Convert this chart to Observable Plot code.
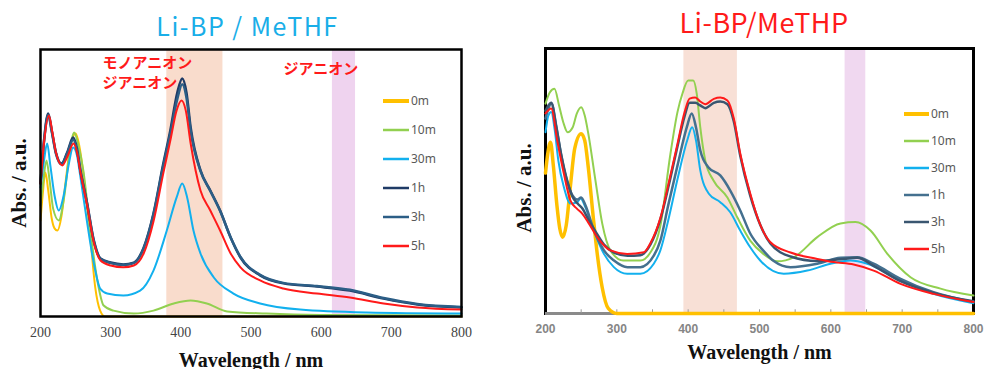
<!DOCTYPE html>
<html><head><meta charset="utf-8">
<script src="https://cdn.jsdelivr.net/npm/d3@7"></script>
<script src="https://cdn.jsdelivr.net/npm/@observablehq/plot@0.6"></script>
<style>
html,body{margin:0;padding:0;background:#fff;}
#wrap{position:relative;width:984px;height:369px;overflow:hidden;background:#fff;}
#left,#right{position:absolute;top:0;}
#left{left:0;} #right{left:492px;}
</style></head>
<body><div id="wrap"><div id="left"></div><div id="right"></div></div>
<script>
// ---------- shared ----------
const seriesNames = ["0m","10m","30m","1h","3h","5h"];
const tickLabels = [200,300,400,500,600,700,800];
const minorTicks = [250,300,350,400,450,500,550,600,650,700,750];

// ---------- Li-BP / MeTHF (left) ----------
const thfTitle = "Li-BP / MeTHF";
const thfBandStart = [380, 616];
const thfBandEnd = [460, 649];
const thfWl0m = [200,203,207,211,216,220,224,230,236,242,250,256,261,266,271,278,285,292,300,400,500,600,700,800];
const thfAbs0m = [36.0,45.3,53.9,47.2,36.7,33.0,32.2,37.8,50.9,62.9,68.5,62.9,53.6,41.6,29.6,10.9,2.2,0,0,0,0,0,0,0];
const thfWl10m = [200,204,208.5,213,218,226,234,241,248,254,261,271,281,290,304,333,361,390,414,437,466,522,600,800];
const thfAbs10m = [41.6,50.9,58.4,50.9,40.4,36.0,45.3,60.3,68.9,64.0,54.7,32.2,13.5,4.1,2.2,1.1,2.2,4.9,6.0,4.9,1.9,1.1,0.6,0.4];
const thfWl30m = [200,205,209.5,214,220,226,233,240,246.5,252,257,266,276,285,295,318,342,361,380,394,402,409,418,428,447,475,513,570,665,800];
const thfAbs30m = [48.3,58.4,64.8,56.6,45.3,39.7,45.3,56.6,63.3,60.3,52.1,36.0,19.9,10.5,8.6,7.9,9.7,17.2,32.2,44.6,49.8,44.6,32.2,23.6,14.6,8.6,4.9,2.6,1.5,1.1];
const thfWl1h = [200,205,211,216,222,230,238,246.5,252,257,266.5,276,285.5,300,318,333,347,361,375,385,395,402,408,414,428,442,456,471,485,513,546,594,641,689,737,800];
const thfAbs1h = [49.8,65.9,76.0,69.7,61.4,57.3,61.4,67.0,62.9,54.7,42.3,28.5,21.7,20.2,19.5,20.2,25.8,38.6,57.3,69.7,83.9,89.1,83.9,70.8,54.7,47.2,39.7,29.6,22.1,15.4,12.4,11.2,9.7,6.7,4.5,3.4];
const thfWl3h = thfWl1h;
const thfAbs3h = [49.8,65.5,75.5,69.3,61.0,57.0,61.0,66.2,62.3,54.3,42.0,28.2,21.5,20.0,19.3,20.0,25.5,38.2,56.5,68.5,81.5,87.0,82.0,69.5,54.5,47.0,39.5,29.6,22.3,15.6,12.6,11.4,10.0,6.9,4.7,3.6];
const thfWl5h = [200,205,212,217,222,231,239,247,252,257,266.5,276,285.5,300,318,333,347,361,375,385,394,401,407,414,428,442,456,471,485,513,546,594,641,689,737,800];
const thfAbs5h = [49.8,65.2,75.3,68.9,61.4,56.6,60.3,64.8,61.4,53.9,41.6,27.7,21.0,19.1,18.4,19.1,23.6,35.6,53.6,65.9,77.2,80.9,77.2,64.8,47.2,39.7,32.2,23.6,18.4,13.5,10.5,8.6,7.1,4.9,3.4,2.6];

// ---------- Li-BP / MeTHP (right) ----------
const thpTitle = "Li-BP/MeTHP";
const thpBandStart = [394, 620];
const thpBandEnd = [469, 649];
const thpWl0m = [200,203,207,211,216,220,224,229,235,241,250,255,260,267,272.5,279.5,288,300,400,500,600,700,800];
const thpAbs0m = [53.0,60.0,64.6,55.8,40.8,32.1,28.8,33.2,48.3,62.3,67.8,65.3,55.1,36.2,22.6,9.8,1.9,0,0,0,0,0,0];
const thpWl10m = [200,206,212.6,219,225,231,238,244,250,255,260,270,279.5,291,309,333,347,361,375,385,392,400,407,412,417,424,435.5,455,469,487,505,525,548,581,613.6,634.6,655.6,679,711.7,753.8,800];
const thpAbs10m = [79.2,83.4,84.8,78.5,72.1,68.4,70.2,75.5,77.8,74.7,67.9,50.2,34.0,23.8,20.0,20.0,23.0,33.0,60.0,76.0,83.0,87.9,87.9,83.0,70.2,57.7,50.2,43.8,36.2,27.5,22.6,19.7,21.2,28.8,34.0,34.5,31.3,22.6,13.7,9.4,6.8];
const thpWl30m = [200,204,208,213,218,225.7,235,244.4,249,256,267.7,281.7,295.8,314.5,333,351.8,361,372,384.6,398.6,405.6,411,417,429,445,459,473,487,501,534,567,599.6,627.6,651,697.7,744,800];
const thpAbs30m = [68.4,74.7,76.0,69.1,57.7,47.7,41.5,42.0,43.4,40.1,31.3,22.6,17.5,15.0,15.0,18.8,23.8,35.1,50.2,65.3,70.3,65.3,54.0,45.2,42.0,38.2,31.3,25.0,20.0,15.0,16.2,18.8,20.0,18.8,12.5,7.4,3.9];
const thpWl1h = [200,208.5,215,222,230,238,245,250,256,267,282,296,315,333,352,361,372,385,398,405,411,417,428.5,445,459,473,487,505,520,543.5,581,613.6,637,660,697.7,744,800];
const thpAbs1h = [73.6,79.2,70.9,59.6,50.2,44.5,43.0,43.8,40.8,32.1,23.8,20.0,17.5,17.5,21.9,27.5,40.8,55.8,70.2,75.5,70.2,61.5,55.1,52.1,46.4,38.9,30.2,23.8,19.8,17.5,18.8,21.0,21.2,18.8,13.1,8.0,4.3];
const thpWl3h = [200,208,215,222,230,238,245,252,260,270,282,296,315,333,347,361,375,385,395,402,410,417,424,436,445,455,464,473,487,501,515,543.5,581,613.6,637,660,697.7,744,800];
const thpAbs3h = [76.5,79.5,70.5,60.0,50.5,44.0,41.5,39.5,35.5,31.0,26.0,23.0,21.8,22.0,26.0,35.5,51.0,63.0,74.5,79.5,79.5,78.5,77.5,79.5,80.0,79.0,72.5,59.5,44.5,33.5,26.5,21.5,19.8,20.5,21.0,18.0,12.2,7.8,4.6];
const thpWl5h = [200,208,216.4,225.7,235,244,251.4,260.7,272.5,291,314.5,338,347,361,375,385,395,402,410,417,424,436,445,455,464,473,487,501,515,543.5,581,604,632,660,697.7,744,800];
const thpAbs5h = [75.5,77.4,65.3,52.8,42.6,39.6,37.7,34.0,28.8,23.8,22.5,23.1,26.5,36.0,52.0,64.0,76.0,81.1,81.5,80.0,79.0,81.0,81.5,80.4,73.6,60.4,45.3,33.5,27.0,23.0,20.6,19.4,18.5,16.2,11.2,7.4,4.3];

// ---------- build ----------
const rows = (wl, ab) => wl.map((w, i) => ({wl: w, a: ab[i]}));
const serif = "'Liberation Serif', 'Times New Roman', serif";

function panel(o) {
  const marks = [];
  o.bandStart.forEach((b, i) => {
    marks.push(Plot.rect([{x1: b, x2: o.bandEnd[i]}], {x1: "x1", x2: "x2", fill: o.bandFills[i]}));
  });
  if (o.frameFirst) {
    marks.push(Plot.frame({stroke: "#000", strokeWidth: o.frameWidth}));
    marks.push(Plot.ruleY([0], {stroke: "#8a8a8a", strokeWidth: o.frameWidth}));
    marks.push(Plot.ruleX(minorTicks, {y1: 0, y2: 1.4, stroke: "#9a9a9a", strokeWidth: 1}));
  }
  o.series.forEach((s, i) => {
    marks.push(Plot.line(rows(s[0], s[1]), {x: "wl", y: "a", stroke: o.colors[i], strokeWidth: o.widths[i], curve: "monotone-x"}));
  });
  if (!o.frameFirst) marks.push(Plot.frame({stroke: "#000", strokeWidth: o.frameWidth}));
  marks.push(Plot.text(tickLabels, {x: d => d, frameAnchor: "bottom", text: d => String(d), textAnchor: "middle", lineAnchor: "top", dy: 11,
    fontFamily: o.tickFont, fontSize: o.tickSize, fontWeight: o.tickWeight, fill: o.tickFill}));
  marks.push(Plot.text(["Wavelength / nm"], {frameAnchor: "bottom", text: d => d, textAnchor: "middle", lineAnchor: "bottom", dy: o.xLabelDy,
    fontFamily: serif, fontSize: 20, fontWeight: "bold", fill: "#111"}));
  marks.push(Plot.text(["Abs. / a.u."], {frameAnchor: "left", text: d => d, rotate: -90, textAnchor: "middle", lineAnchor: "middle", dx: o.yLabelDx, dy: o.yLabelDy,
    fontFamily: serif, fontSize: 21, fontWeight: "bold", fill: "#111"}));
  if (o.notes) o.notes.forEach(n => marks.push(Plot.text([n.text], {frameAnchor: "top-left", text: d => d, textAnchor: "start",
    lineAnchor: "bottom", lineHeight: 1.27, dx: n.dx, dy: n.dy, fontFamily: "'Noto Sans CJK JP', sans-serif", fontSize: 15, fontWeight: "bold", fill: "#ff1a1a"})));
  const svg = Plot.plot({
    width: 492, height: 369,
    marginLeft: o.m[0], marginRight: o.m[1], marginTop: o.m[2], marginBottom: o.m[3],
    x: {domain: [200, 800], axis: null},
    y: {domain: [0, 100], axis: null},
    style: {background: "transparent", overflow: "visible"},
    marks
  });
  const s = d3.select(svg);
  s.append("text").text(o.title).attr("x", o.titleX).attr("y", o.titleY).attr("text-anchor", "middle")
    .attr("font-family", "'Noto Sans CJK JP', 'Noto Sans', sans-serif").attr("font-size", o.titleSize)
    .attr("letter-spacing", o.titleSpacing).attr("fill", o.titleColor);
  const lg = s.append("g");
  seriesNames.forEach((name, i) => {
    const y = o.legY + i * o.legStep;
    lg.append("line").attr("x1", o.legX1).attr("x2", o.legX2).attr("y1", y).attr("y2", y)
      .attr("stroke", o.colors[i]).attr("stroke-width", i === 0 ? 4 : 2.5);
    lg.append("text").text(name).attr("x", o.legX2 + 2).attr("y", y).attr("dy", "0.35em").attr("text-anchor", "start")
      .attr("font-family", "'Noto Sans', sans-serif").attr("font-size", 12).attr("fill", "#595959");
  });
  return svg;
}

document.getElementById("left").appendChild(panel({
  title: thfTitle, titleX: 247.5, titleY: 36, titleSize: 25, titleSpacing: 1.5, titleColor: "#19aee8",
  m: [40, 31, 49, 53], frameWidth: 2.5, frameFirst: false,
  bandStart: thfBandStart, bandEnd: thfBandEnd, bandFills: ["#f9dccc", "#efd3ef"],
  series: [[thfWl0m, thfAbs0m], [thfWl10m, thfAbs10m], [thfWl30m, thfAbs30m], [thfWl1h, thfAbs1h], [thfWl3h, thfAbs3h], [thfWl5h, thfAbs5h]],
  colors: ["#ffc000", "#92d050", "#12b0ee", "#1f3b66", "#2c5e86", "#ff1a1a"],
  widths: [2, 2, 2, 2.5, 2.5, 2],
  tickFont: serif, tickSize: 14, tickWeight: "normal", tickFill: "#444",
  xLabelDy: 50, yLabelDx: -21.5, yLabelDy: 0,
  notes: [{text: "モノアニオン\nジアニオン", dx: 62, dy: 38}, {text: "ジアニオン", dx: 243, dy: 24}],
  legX1: 383, legX2: 409, legY: 101, legStep: 29
}));

document.getElementById("right").appendChild(panel({
  title: thpTitle, titleX: 272, titleY: 33, titleSize: 27, titleSpacing: 0.5, titleColor: "#ff1a1a",
  m: [53, 11, 48, 56], frameWidth: 3, frameFirst: true,
  bandStart: thpBandStart, bandEnd: thpBandEnd, bandFills: ["#f8e0d6", "#f0d8f0"],
  series: [[thpWl0m, thpAbs0m], [thpWl10m, thpAbs10m], [thpWl30m, thpAbs30m], [thpWl1h, thpAbs1h], [thpWl3h, thpAbs3h], [thpWl5h, thpAbs5h]],
  colors: ["#ffc000", "#92d050", "#12b0ee", "#44708f", "#3a5670", "#ff1a1a"],
  widths: [3.5, 2, 2, 2.5, 2.5, 2],
  tickFont: "'Liberation Sans', Arial, sans-serif", tickSize: 12, tickWeight: "bold", tickFill: "#858585",
  xLabelDy: 45, yLabelDx: -21, yLabelDy: 7,
  notes: null,
  legX1: 904 - 492, legX2: 929 - 492, legY: 114, legStep: 27
}));
</script>
</body></html>
